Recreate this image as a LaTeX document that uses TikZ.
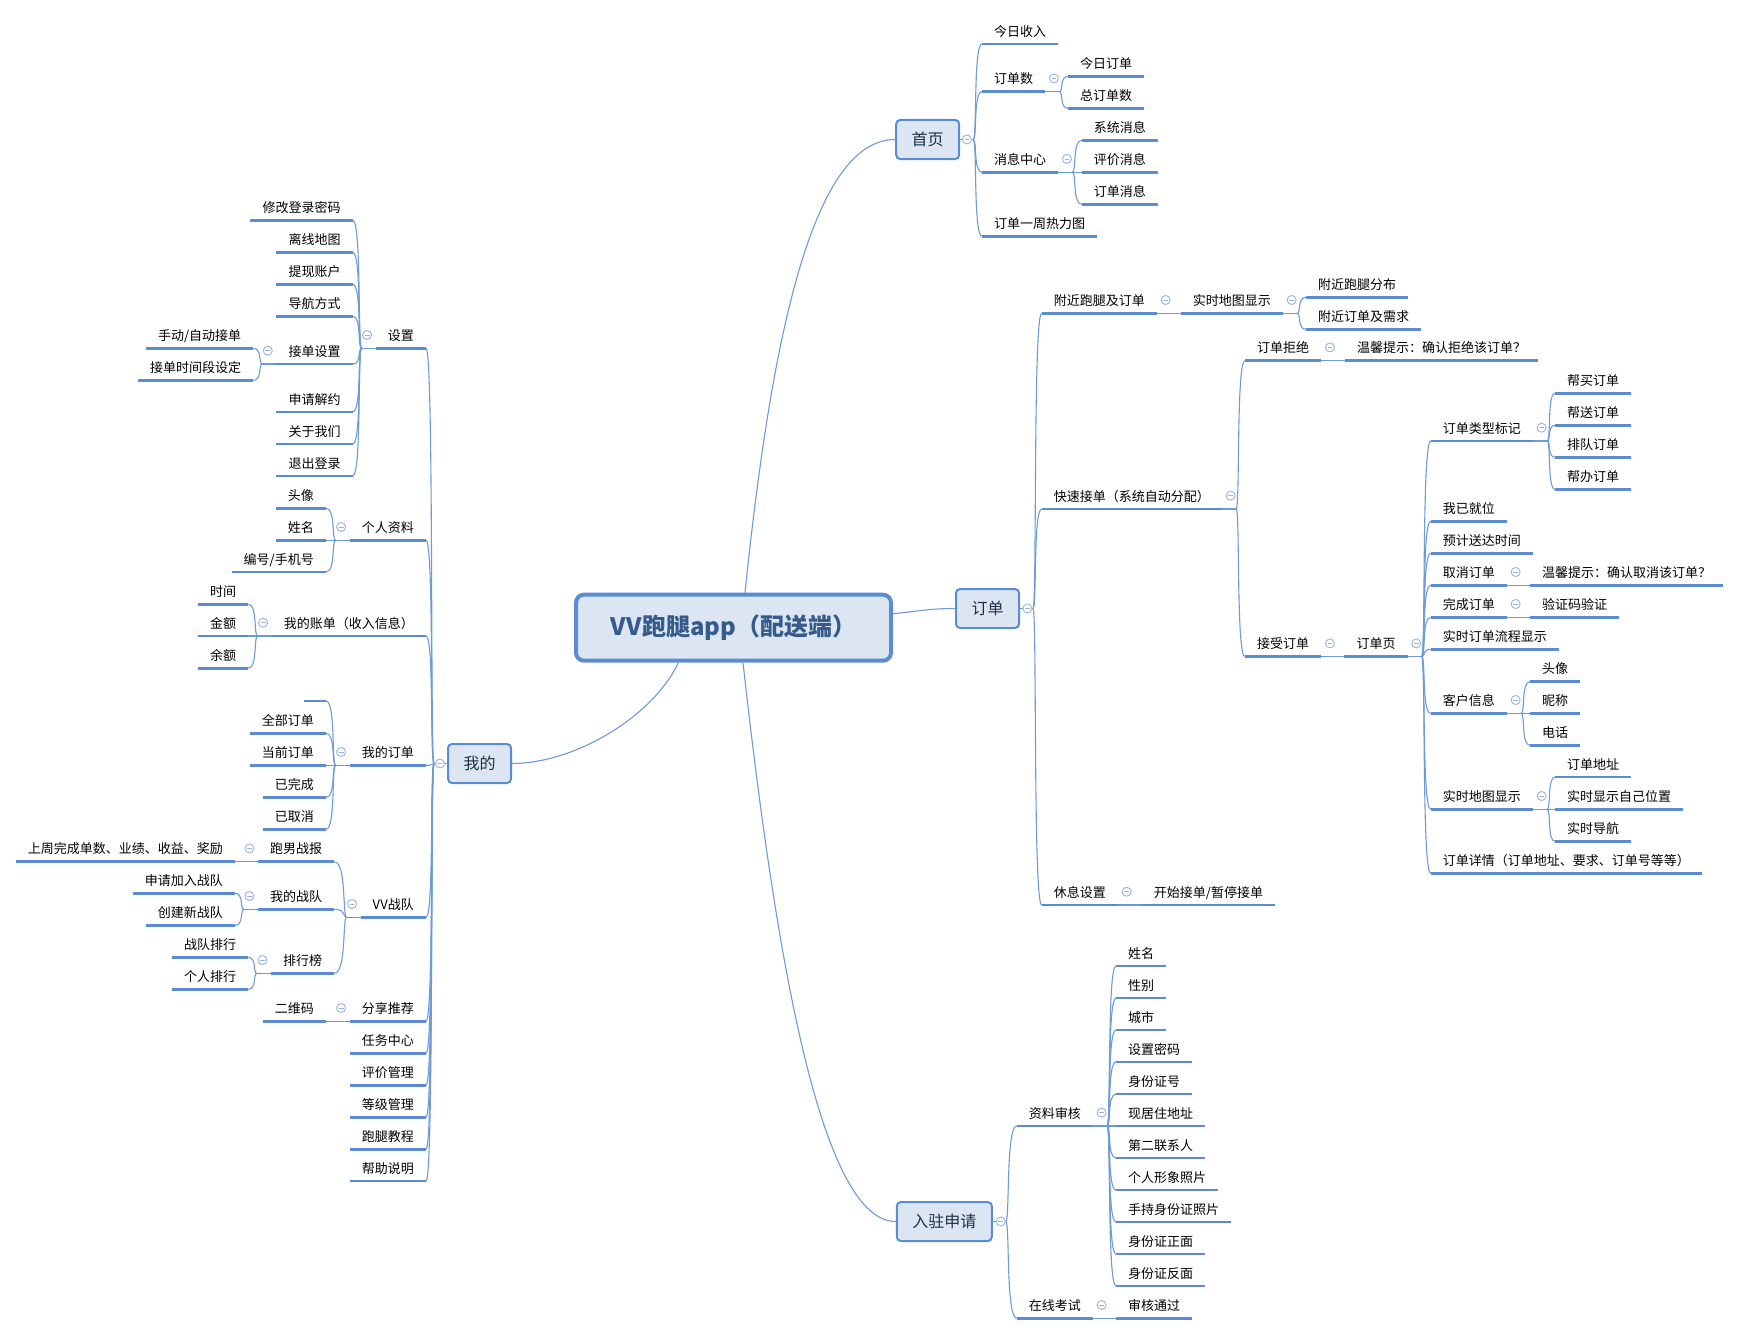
\documentclass[tikz,border=0pt]{standalone}
\usepackage{fontspec}
\setmainfont{Noto Sans CJK SC}
\usetikzlibrary{calc}
\definecolor{ulc}{HTML}{5B8CD3}
\definecolor{cnc}{HTML}{6E9BD8}
\definecolor{bxfill}{HTML}{DCE6F2}
\definecolor{bxline}{HTML}{5B8CD3}
\definecolor{ccl}{HTML}{98B3DD}
\definecolor{ttl}{HTML}{355A8C}
\definecolor{mtxt}{HTML}{1F2D45}
\tikzset{
  uline/.style={draw=ulc, line width=2.8pt},
  topic/.style={font=\fontsize{13}{13}\selectfont, inner xsep=12pt, inner ysep=7.6pt, text depth=0pt,
    append after command={(\tikzlastnode.south west) edge[uline] (\tikzlastnode.south east)}},
  conn/.style={draw=cnc, line width=1.1pt},
  brR/.style={to path={.. controls ([xshift=4pt]\tikztostart) and (\tikztostart |- \tikztotarget) .. (\tikztotarget)}},
  brL/.style={to path={.. controls ([xshift=-4pt]\tikztostart) and (\tikztostart |- \tikztotarget) .. (\tikztotarget)}},
  coll/.style={circle, draw=ccl, fill=white, line width=0.9pt, minimum size=9pt, inner sep=0pt,
    path picture={\draw[ccl, line width=0.9pt] ([xshift=-2.4pt]path picture bounding box.center) -- ([xshift=2.4pt]path picture bounding box.center);}},
  mainbox/.style={draw=bxline, fill=bxfill, line width=2pt, rounded corners=4pt, minimum height=39pt, inner xsep=15.5pt, font=\fontsize{16}{16}\selectfont, text=mtxt},
  rootbox/.style={draw=bxline, fill=bxfill, line width=4pt, rounded corners=8pt, minimum width=315pt, minimum height=66pt, font=\fontsize{24}{24}\selectfont\bfseries, text=ttl},
}
\newcommand\tR[4]{\node[topic,anchor=south west] (#1) at (#2,#3) {#4};}
\newcommand\tL[4]{\node[topic,anchor=south east] (#1) at (#2,#3) {#4};}
\newcommand\kR[2]{%
  \draw[conn] (#1.south east) -- ++(14,0) coordinate (#1-f);
  \foreach \k in {#2} {\draw[conn] (#1-f) to[brR] (\k.south west);}
  \node[coll] (#1-c) at ([xshift=8.5pt,yshift=13.3pt]#1.south east) {};}
\newcommand\kL[2]{%
  \draw[conn] (#1.south west) -- ++(-14,0) coordinate (#1-f);
  \foreach \k in {#2} {\draw[conn] (#1-f) to[brL] (\k.south east);}
  \node[coll] (#1-c) at ([xshift=-8.5pt,yshift=13.3pt]#1.south west) {};}
\newcommand\mR[3]{%
  \draw[conn] (#1.east) -- ++(13,0) coordinate (#1-f);
  \foreach \k in {#3} {\draw[conn] (#1-f) to[brR] (\k.south west);}
  \node[coll] (#1-c) at ([xshift=#2pt]#1.east) {};}
\newcommand\mL[3]{%
  \draw[conn] (#1.west) -- ++(-13,0) coordinate (#1-f);
  \foreach \k in {#3} {\draw[conn] (#1-f) to[brL] (\k.south east);}
  \node[coll] (#1-c) at ([xshift=-#2pt]#1.west) {};}
\begin{document}
\begin{tikzpicture}[x=1pt,y=-1pt]
\fill[white] (0,0) rectangle (1739,1335);
\useasboundingbox (0,0) rectangle (1739,1335);

% ---------- main boxes ----------
\node[rootbox] (root) at (733.5,627.7) {VV跑腿app（配送端）};
\node[mainbox] (sy) at (927.7,139.5) {首页};
\node[mainbox] (dd) at (987.5,608.5) {订单};
\node[mainbox] (wd) at (479.5,763.5) {我的};
\node[mainbox] (rz) at (944.3,1221.5) {入驻申请};

% ---------- 首页 ----------
\tR{sy1}{982}{44}{今日收入}
\tR{sy2}{982}{91.7}{订单数}
\tR{sy21}{1068}{76.3}{今日订单}
\tR{sy22}{1068}{108.3}{总订单数}
\tR{sy3}{982}{172.3}{消息中心}
\tR{sy31}{1081.7}{140.3}{系统消息}
\tR{sy32}{1081.7}{172.3}{评价消息}
\tR{sy33}{1081.7}{204.3}{订单消息}
\tR{sy4}{982}{236.3}{订单一周热力图}

% ---------- 订单 ----------
\tR{da}{1041.7}{313.3}{附近跑腿及订单}
\tR{da1}{1180.7}{313.3}{实时地图显示}
\tR{da11}{1306}{297.3}{附近跑腿分布}
\tR{da12}{1306}{329.3}{附近订单及需求}
\tR{db}{1041.7}{509}{快速接单（系统自动分配）}
\tR{db1}{1245}{360.7}{订单拒绝}
\tR{db11}{1345}{360.7}{温馨提示：确认拒绝该订单？}
\tR{db2}{1245}{656.7}{接受订单}
\tR{db21}{1344.3}{656.7}{订单页}
\tR{p1}{1430.7}{441}{订单类型标记}
\tR{p11}{1555}{393.3}{帮买订单}
\tR{p12}{1555}{425.3}{帮送订单}
\tR{p13}{1555}{457.3}{排队订单}
\tR{p14}{1555}{489.3}{帮办订单}
\tR{p2}{1430.7}{521.3}{我已就位}
\tR{p3}{1430.7}{553.3}{预计送达时间}
\tR{p4}{1430.7}{585.3}{取消订单}
\tR{p41}{1530}{585.3}{温馨提示：确认取消该订单？}
\tR{p5}{1430.7}{617.3}{完成订单}
\tR{p51}{1530}{617.3}{验证码验证}
\tR{p6}{1430.7}{649.3}{实时订单流程显示}
\tR{p7}{1430.7}{713.3}{客户信息}
\tR{p71}{1530}{681.7}{头像}
\tR{p72}{1530}{713.3}{昵称}
\tR{p73}{1530}{745.3}{电话}
\tR{p8}{1430.7}{809.3}{实时地图显示}
\tR{p81}{1555}{777}{订单地址}
\tR{p82}{1555}{809.3}{实时显示自己位置}
\tR{p83}{1555}{841.3}{实时导航}
\tR{p9}{1430.7}{873.3}{订单详情（订单地址、要求、订单号等等）}
\tR{dc}{1041.7}{905}{休息设置}
\tR{dc1}{1141.7}{905}{开始接单/暂停接单}

% ---------- 入驻申请 ----------
\tR{ra}{1016.7}{1126}{资料审核}
\tR{ra1}{1116}{966}{姓名}
\tR{ra2}{1116}{998}{性别}
\tR{ra3}{1116}{1030}{城市}
\tR{ra4}{1116}{1062}{设置密码}
\tR{ra5}{1116}{1094}{身份证号}
\tR{ra6}{1116}{1126}{现居住地址}
\tR{ra7}{1116}{1158}{第二联系人}
\tR{ra8}{1116}{1190}{个人形象照片}
\tR{ra9}{1116}{1222}{手持身份证照片}
\tR{ra10}{1116}{1254}{身份证正面}
\tR{ra11}{1116}{1286}{身份证反面}
\tR{rb}{1016.7}{1318.3}{在线考试}
\tR{rb1}{1116}{1318.3}{审核通过}

% ---------- 我的 ----------
\tL{sz}{426}{348.3}{设置}
\tL{sz1}{352.7}{220.3}{修改登录密码}
\tL{sz2}{352.7}{252.3}{离线地图}
\tL{sz3}{352.7}{284.3}{提现账户}
\tL{sz4}{352.7}{316.3}{导航方式}
\tL{sz5}{352.7}{364}{接单设置}
\tL{sz51}{253.3}{348.3}{手动/自动接单}
\tL{sz52}{253.3}{380.3}{接单时间段设定}
\tL{sz6}{352.7}{412}{申请解约}
\tL{sz7}{352.7}{444}{关于我们}
\tL{sz8}{352.7}{476}{退出登录}
\tL{gr}{426}{540.3}{个人资料}
\tL{gr1}{326}{508.3}{头像}
\tL{gr2}{326}{540.3}{姓名}
\tL{gr3}{326}{572}{编号/手机号}
\tL{zd}{426}{636}{我的账单（收入信息）}
\tL{zd1}{248.3}{604.3}{时间}
\tL{zd2}{248.3}{636}{金额}
\tL{zd3}{248.3}{668.3}{余额}
\tL{wo}{426}{765.3}{我的订单}
\node[topic,anchor=south east,minimum width=22pt,inner xsep=0pt] (wo0) at (326,701) {};
\tL{wo1}{326}{733.3}{全部订单}
\tL{wo2}{326}{765.3}{当前订单}
\tL{wo3}{326}{797.3}{已完成}
\tL{wo4}{326}{829.3}{已取消}
\tL{vv}{426}{917.3}{VV战队}
\tL{v1}{334.3}{861.7}{跑男战报}
\tL{v11}{235}{861.7}{上周完成单数、业绩、收益、奖励}
\tL{v2}{334.3}{909.3}{我的战队}
\tL{v21}{235}{893.3}{申请加入战队}
\tL{v22}{235}{925.3}{创建新战队}
\tL{v3}{334.3}{973.3}{排行榜}
\tL{v31}{248.3}{957.3}{战队排行}
\tL{v32}{248.3}{989.3}{个人排行}
\tL{fx}{426}{1021.3}{分享推荐}
\tL{fx1}{326}{1021.3}{二维码}
\tL{m1}{426}{1053.3}{任务中心}
\tL{m2}{426}{1085.3}{评价管理}
\tL{m3}{426}{1117.3}{等级管理}
\tL{m4}{426}{1149.3}{跑腿教程}
\tL{m5}{426}{1181}{帮助说明}

% ---------- root connectors ----------
\draw[conn] ([xshift=11.5pt]root.north) .. controls +(27,-263) and +(-81,0) .. (sy.west);
\draw[conn] ([yshift=14pt]root.east) .. controls +(30,-3) and +(-25,0) .. (dd.west);
\draw[conn] ([xshift=-55pt]root.south) .. controls +(-28,57) and +(60,0) .. (wd.east);
\draw[conn] ([xshift=9.5pt]root.south) .. controls +(32,287) and +(-76,0) .. (rz.west);

% ---------- branches ----------
\mR{sy}{6.7}{sy1,sy2,sy3,sy4}
\kR{sy2}{sy21,sy22}
\kR{sy3}{sy31,sy32,sy33}

\mR{dd}{7.4}{da,db,dc}
\kR{da}{da1}
\kR{da1}{da11,da12}
\kR{db}{db1,db2}
\kR{db1}{db11}
\kR{db2}{db21}
\kR{db21}{p1,p2,p3,p4,p5,p6,p7,p8,p9}
\kR{p1}{p11,p12,p13,p14}
\kR{p4}{p41}
\kR{p5}{p51}
\kR{p7}{p71,p72,p73}
\kR{p8}{p81,p82,p83}
\kR{dc}{dc1}

\mR{rz}{8}{ra,rb}
\kR{ra}{ra1,ra2,ra3,ra4,ra5,ra6,ra7,ra8,ra9,ra10,ra11}
\kR{rb}{rb1}

\mL{wd}{7}{sz,gr,zd,wo,vv,fx,m1,m2,m3,m4,m5}
\kL{sz}{sz1,sz2,sz3,sz4,sz5,sz6,sz7,sz8}
\kL{sz5}{sz51,sz52}
\kL{gr}{gr1,gr2,gr3}
\kL{zd}{zd1,zd2,zd3}
\kL{wo}{wo0,wo1,wo2,wo3,wo4}
\kL{vv}{v1,v2,v3}
\kL{v1}{v11}
\kL{v2}{v21,v22}
\kL{v3}{v31,v32}
\kL{fx}{fx1}
\end{tikzpicture}
\end{document}
